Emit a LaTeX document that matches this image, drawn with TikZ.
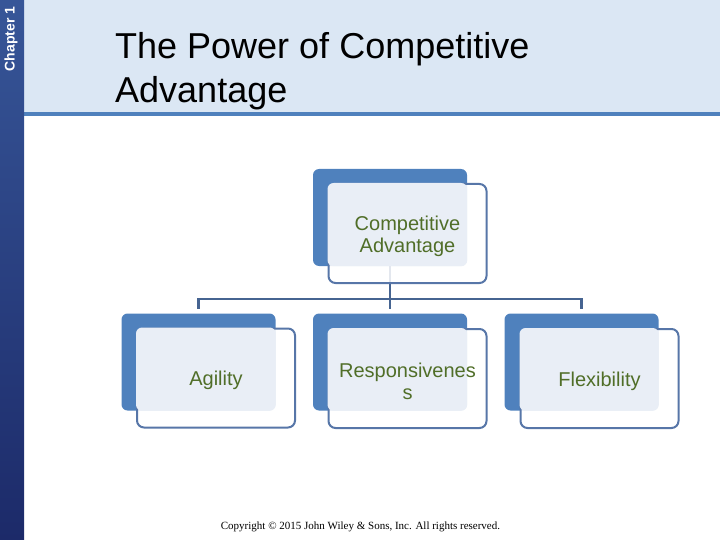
\documentclass[tikz,border=0pt]{standalone}
\usepackage{fontspec}
\setmainfont{Liberation Sans}
\newfontfamily\copyfont{Liberation Serif}
\usepackage{xcolor}
\usepackage{tikz}
\usetikzlibrary{positioning,calc}
\definecolor{hdrfill}{RGB}{219,231,244}
\definecolor{hdrline}{RGB}{79,129,189}
\definecolor{bartop}{RGB}{55,86,152}
\definecolor{barbot}{RGB}{28,42,105}
\definecolor{backblue}{RGB}{79,129,189}
\definecolor{frontline}{RGB}{87,118,168}
\definecolor{lightfill}{RGB}{233,238,246}
\definecolor{treeline}{RGB}{70,100,145}
\definecolor{boxtext}{RGB}{80,110,40}
\tikzset{
  backbox/.style={draw=none, fill=backblue, rounded corners=6pt, minimum width=154pt, minimum height=97pt, inner sep=0pt},
  frontbox/.style={draw=frontline, line width=2pt, fill=white, fill opacity=0.85, rounded corners=7pt, minimum width=158pt, minimum height=99pt, inner sep=0pt},
  innerfill/.style={fill=lightfill, rounded corners=6pt},
  labeltext/.style={text=boxtext, font=\fontsize{20}{22}\selectfont, align=center, inner sep=0pt, yshift=-2.5pt},
  treeedge/.style={draw=treeline, line width=2.5pt},
  titletext/.style={font=\fontsize{36}{43.5}\selectfont, align=left, anchor=north west, inner sep=0pt}
}

\begin{document}
\begin{tikzpicture}[x=1pt,y=-1pt]
\useasboundingbox (0,0) rectangle (720,540);
% slide frame
\fill[hdrfill] (24,0) rectangle (720,112);
\fill[hdrline] (24,112) rectangle (720,116);
\shade[top color=bartop, bottom color=barbot] (0,0) rectangle (24,540);
\node[text=white, font=\bfseries\fontsize{14}{16}\selectfont, rotate=90, inner sep=0pt] (chap) at (11,39) {Chapter 1};
\node[titletext] (title) at (115,32.5) {The Power of Competitive\\Advantage};

% back boxes
\node[backbox] (topback) at (390,217.5) {};
\node[backbox] (agiback) at (198.5,362) {};
\node[backbox] (resback) at (390,362) {};
\node[backbox] (flxback) at (581.5,362) {};

% tree
\coordinate (bus) at (390,299);
\draw[treeedge] (topback.south) -- (bus);
\draw[treeedge, shorten >=4pt] (bus) -| (agiback.north);
\draw[treeedge, shorten >=4pt] (bus) -- (resback.north);
\draw[treeedge, shorten >=4pt] (bus) -| (flxback.north);

% front boxes
\node[frontbox] (topfront) at (407.5,233.5) {};
\node[frontbox] (agifront) at (216,378) {};
\node[frontbox] (resfront) at (407.5,378.5) {};
\node[frontbox] (flxfront) at (599.5,378.5) {};
\fill[innerfill] (topfront.north west) rectangle (topback.south east);
\fill[innerfill] (agifront.north west) rectangle (agiback.south east);
\fill[innerfill] (resfront.north west) rectangle (resback.south east);
\fill[innerfill] (flxfront.north west) rectangle (flxback.south east);

% labels
\node[labeltext] (toptxt) at (topfront.center) {Competitive\\Advantage};
\node[labeltext] (agitxt) at (agifront.center) {Agility};
\node[labeltext] (restxt) at (resfront.center) {Responsivenes\\s};
\node[labeltext] (flxtxt) at (flxfront.center) {Flexibility};

\node[font=\copyfont\fontsize{11}{13}\selectfont, anchor=base, inner sep=0pt] (copy) at (360.5,529.5) {Copyright \textcopyright{} 2015 John Wiley \& Sons, Inc. All rights reserved.};
\end{tikzpicture}
\end{document}
